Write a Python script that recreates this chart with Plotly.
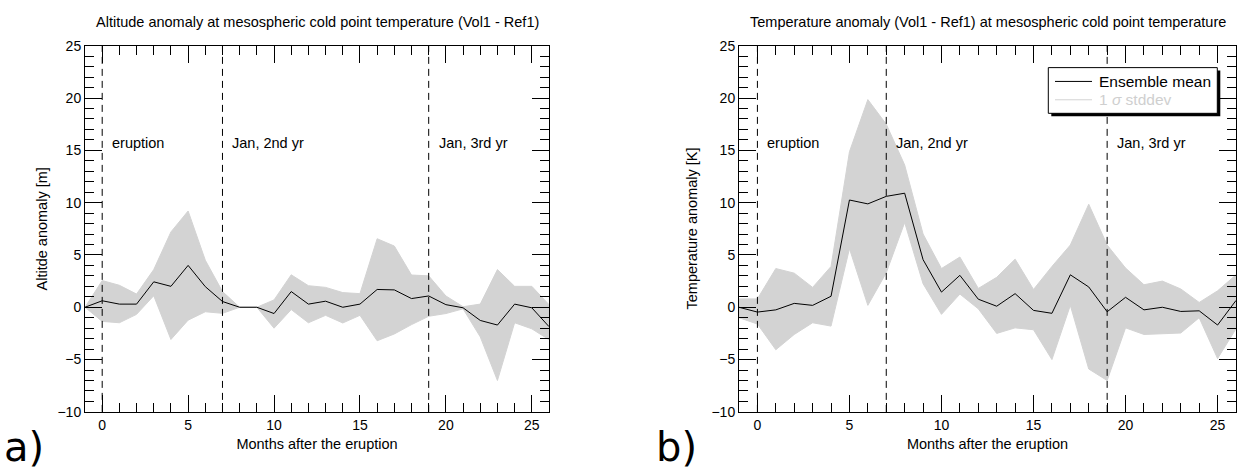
import plotly.graph_objects as go

# ---------------- data ----------------
months = list(range(-1, 27))

alt_mean = [0, 0.62, 0.3, 0.3, 2.43, 2.0, 4.0, 1.97, 0.55, 0, 0, -0.6, 1.5, 0.3,
            0.58, 0, 0.3, 1.7, 1.66, 0.83, 1.08, 0.25, -0.05, -1.26, -1.7, 0.3, -0.05, -1.85]
alt_upper = [0, 2.55, 2.1, 1.26, 3.6, 7.2, 9.2, 4.5, 1.5, 0, 0, 0.7, 3.1, 2.06,
             1.9, 1.4, 1.3, 6.55, 5.85, 3.08, 3.0, 1.08, 0.05, 0.3, 3.6, 2.0, 2.0, 0.25]
alt_lower = [0, -1.35, -1.48, -0.68, 1.1, -3.08, -1.23, -0.43, -0.58, 0, 0, -2.0, -0.22, -1.48,
             -0.77, -1.5, -0.77, -3.2, -2.55, -1.66, -0.86, -0.6, -0.15, -2.83, -7.0, -1.48, -2.06, -3.1]

tmp_mean = [0, -0.46, -0.25, 0.37, 0.18, 1.05, 10.25, 9.88, 10.6, 10.9, 4.55, 1.45, 3.05, 0.77,
            0.1, 1.3, -0.3, -0.58, 3.1, 1.94, -0.43, 0.95, -0.25, 0, -0.4, -0.34, -1.7, 0.65]
tmp_upper = [0.8, 0.8, 3.7, 3.26, 1.9, 3.9, 14.86, 19.85, 17.5, 13.6, 7.0, 3.7, 4.8, 1.8,
             2.86, 4.6, 1.7, 3.9, 5.95, 9.85, 5.95, 3.75, 2.15, 2.5, 1.75, 0.46, 1.57, 3.1]
tmp_lower = [-1.0, -1.6, -4.06, -2.6, -1.48, -1.8, 5.6, 0.18, 3.3, 8.1, 2.25, -0.68, 1.26, -0.15,
             -2.5, -1.97, -2.15, -5.0, 0.18, -5.9, -7.0, -1.97, -2.6, -2.5, -2.46, -1.0, -4.9, -2.06]

event_months = [0, 7, 19]
event_labels = ["eruption", "Jan, 2nd yr", "Jan, 3rd yr"]
label_level = 15.7

titles = ["Altitude anomaly at mesospheric cold point temperature (Vol1 - Ref1)",
          "Temperature anomaly (Vol1 - Ref1) at mesospheric cold point temperature"]
ytitles = ["Altitde anomaly [m]", "Temperature anomaly [K]"]
xtitle = "Months after the eruption"
panel_tags = ["a)", "b)"]
legend_names = ["Ensemble mean", "1 <i>σ</i> stddev"]

x_range = [-1, 26]
y_range = [-10, 25]
major_step = 5

# ---------------- layout constants ----------------
W, H = 1257, 474
FONT = "Liberation Sans, Arial, Helvetica, sans-serif"
BAND = "#d3d3d3"
PANEL_X = [(85, 549), (739, 1236)]   # plot box edges in px
PANEL_Y = (39, 418)

def px(x):
    return x / W

def py(y):
    return 1 - y / H

fig = go.Figure()

panels = [
    dict(mean=alt_mean, up=alt_upper, lo=alt_lower, xa="x", ya="y"),
    dict(mean=tmp_mean, up=tmp_upper, lo=tmp_lower, xa="x2", ya="y2"),
]

for p in panels:
    fig.add_trace(go.Scatter(x=months, y=p["lo"], mode="lines", line=dict(color=BAND, width=1),
                             name=legend_names[1], showlegend=False,
                             xaxis=p["xa"], yaxis=p["ya"], hoverinfo="skip"))
    fig.add_trace(go.Scatter(x=months, y=p["up"], mode="lines", line=dict(color=BAND, width=1),
                             fill="tonexty", fillcolor=BAND, showlegend=False, name=legend_names[1],
                             xaxis=p["xa"], yaxis=p["ya"], hoverinfo="skip"))
    fig.add_trace(go.Scatter(x=months, y=p["mean"], mode="lines", line=dict(color="black", width=1),
                             name=legend_names[0], showlegend=False,
                             xaxis=p["xa"], yaxis=p["ya"]))

domains_x = [[px(a), px(b)] for a, b in PANEL_X]
domain_y = [py(PANEL_Y[1]), py(PANEL_Y[0])]

TF = dict(family=FONT, size=14, color="black")
TT = dict(family=FONT, size=14.5, color="black")

TICKS = dict(tick0=0, dtick=major_step, ticks="inside", ticklen=17, tickwidth=1, tickcolor="black",
             minor=dict(ticks="inside", dtick=1, ticklen=9, tickwidth=1, tickcolor="black"),
             mirror="allticks", showline=True, linecolor="black", linewidth=1,
             showgrid=False, zeroline=False, tickfont=TF)

layout_axes = {}
for i, p in enumerate(panels):
    s = "" if i == 0 else str(i + 1)
    layout_axes[f"xaxis{s}"] = dict(domain=domains_x[i], anchor=p["ya"], range=x_range,
                                    title=dict(text=xtitle, font=TT, standoff=7), **TICKS)
    layout_axes[f"yaxis{s}"] = dict(domain=domain_y, anchor=p["xa"], range=y_range, **TICKS)

shapes = []
annotations = []
for i, (xa, ya) in enumerate([("x", "y"), ("x2", "y2")]):
    for m, lab in zip(event_months, event_labels):
        shapes.append(dict(type="line", xref=xa, yref=f"{ya} domain", x0=m, x1=m, y0=0, y1=1,
                           line=dict(color="black", width=1, dash="7px,5px"), layer="above"))
        annotations.append(dict(text=lab, xref=xa, yref=ya, x=m, y=label_level, xanchor="left",
                                yanchor="middle", xshift=8, showarrow=False,
                                font=dict(family=FONT, size=14.5, color="black")))
    annotations.append(dict(text=titles[i], xref=f"{xa} domain", yref="paper", x=0.5, y=py(15),
                            xanchor="center", yanchor="middle", showarrow=False, font=TT))
    annotations.append(dict(text=ytitles[i], xref="paper", yref=f"{ya} domain",
                            x=px([41.7, 691.7][i]), y=0.5, textangle=-90,
                            xanchor="center", yanchor="middle", showarrow=False, font=TT))

for tag, xpos in zip(panel_tags, [2, 654]):
    annotations.append(dict(text=tag, xref="paper", yref="paper", x=px(xpos), y=py(480),
                            xanchor="left", yanchor="bottom", showarrow=False,
                            font=dict(family="DejaVu Sans", size=40, color="black")))

# legend (box with drop shadow) inside panel b
LX0, LX1, LY0, LY1 = 1048.3, 1217.3, 61.7, 109
shapes.append(dict(type="rect", xref="paper", yref="paper", x0=px(LX0 + 3), x1=px(LX1 + 3),
                   y0=py(LY1 + 3), y1=py(LY0 + 3), fillcolor="black", line=dict(width=0), layer="above"))
shapes.append(dict(type="rect", xref="paper", yref="paper", x0=px(LX0), x1=px(LX1),
                   y0=py(LY1), y1=py(LY0), fillcolor="white", line=dict(color="black", width=1),
                   layer="above"))
for k, (name, col, tcol) in enumerate(zip(legend_names, ["black", BAND], ["black", "#cfcfcf"])):
    yy = 76 + 19 * k
    shapes.append(dict(type="line", xref="paper", yref="paper", x0=px(1055), x1=px(1092),
                       y0=py(yy), y1=py(yy), line=dict(color=col, width=1), layer="above"))
    annotations.append(dict(text=name, xref="paper", yref="paper", x=px(1097), y=py(yy),
                            xanchor="left", yanchor="middle", showarrow=False,
                            font=dict(family=FONT, size=15.5, color=tcol)))

fig.update_layout(
    width=W, height=H,
    margin=dict(l=0, r=0, t=0, b=0),
    paper_bgcolor="white", plot_bgcolor="white",
    shapes=shapes,
    annotations=annotations,
    showlegend=False,
    **layout_axes,
)

fig.write_html("out.html", config={"displayModeBar": False},
               post_script="document.body.style.margin='0px';document.body.style.overflow='hidden';")
